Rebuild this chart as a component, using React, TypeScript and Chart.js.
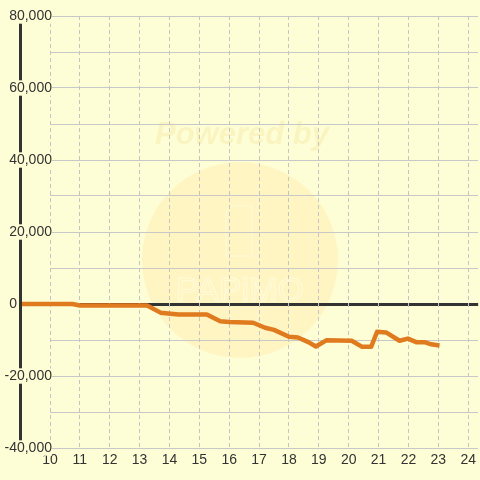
import { useEffect, useRef } from 'react';
import { Chart, registerables } from 'chart.js';

Chart.register(...registerables);

// Hours of day (x) and running balance (y)
const hours = [9, 10.75, 11, 13.25, 13.7, 14.3, 15.25, 15.7, 16.0, 16.8, 17.2, 17.5, 18.0, 18.3, 18.65, 18.9, 19.25, 20.1, 20.45, 20.75, 20.95, 21.25, 21.7, 21.98, 22.26, 22.54, 22.76, 23.04];
const balance = [0, 0, -400, -400, -2400, -2900, -2900, -4800, -5000, -5200, -6600, -7200, -9100, -9300, -10600, -11800, -10100, -10200, -11900, -11900, -7700, -7900, -10200, -9600, -10600, -10600, -11200, -11500];

const xMin = 10;
const xMax = 24.333;
const yMin = -40000;
const yMax = 80000;
const yGridStep = 10000;
const yLabelStep = 20000;

const BG = '#FEFED6';
const LINE = '#E07A1F';
const DARK = '#333333';
const GRID = '#C8C8C8';
const FONT = 'Arial, "Liberation Sans", sans-serif';

const watermark = {
  id: 'watermark',
  beforeDraw(chart: any) {
    const { ctx } = chart;
    ctx.save();
    ctx.fillStyle = '#FFF5C2';
    ctx.beginPath();
    ctx.arc(240, 260, 98, 0, Math.PI * 2);
    ctx.fill();
    ctx.fillStyle = '#FAF4C0';
    ctx.font = 'italic bold 31px ' + FONT;
    ctx.textAlign = 'center';
    ctx.textBaseline = 'middle';
    ctx.fillText('Powered by', 242, 135);
    ctx.strokeStyle = 'rgba(255,252,225,0.8)';
    ctx.lineWidth = 1;
    ctx.beginPath();
    ctx.moveTo(232, 206);
    ctx.lineTo(252, 206);
    ctx.lineTo(252, 256);
    ctx.lineTo(226, 256);
    ctx.lineTo(226, 212);
    ctx.closePath();
    ctx.stroke();
    ctx.font = '34px ' + FONT;
    ctx.lineWidth = 1;
    ctx.strokeText('PAPiMO', 240, 292);
    ctx.restore();
  },
};

export default function App() {
  const ref = useRef<HTMLCanvasElement>(null);

  useEffect(() => {
    const canvas = ref.current;
    if (!canvas) return;
    const chart = new Chart(canvas, {
      type: 'line',
      data: {
        datasets: [
          {
            data: hours.map((h, i) => ({ x: h, y: balance[i] })),
            xAxisID: 'x',
            yAxisID: 'y',
            borderColor: LINE,
            borderWidth: 4.5,
            pointRadius: 0,
            tension: 0,
            borderJoinStyle: 'round',
            borderCapStyle: 'butt',
            clip: false as any,
            fill: false,
          } as any,
        ],
      },
      options: {
        animation: false,
        responsive: false,
        events: [],
        layout: { padding: { top: 16, left: 0, right: 0, bottom: 0 } },
        plugins: {
          legend: { display: false },
          tooltip: { enabled: false },
        },
        scales: {
          yEdge: {
            type: 'linear',
            position: 'left',
            weight: 10,
            ticks: { display: false },
            grid: { display: true, drawOnChartArea: false, drawTicks: false },
            border: { display: true, color: DARK, width: 3, z: 1 },
            afterFit: (s: any) => {
              s.width = 20;
            },
          } as any,
          y: {
            type: 'linear',
            position: 'left',
            weight: 0,
            min: yMin,
            max: yMax,
            afterFit: (s: any) => {
              s.width = 30;
            },
            ticks: {
              stepSize: yGridStep,
              autoSkip: false,
              mirror: true,
              crossAlign: 'far',
              padding: -45.5,
              color: DARK,
              font: { family: FONT, size: 14, lineHeight: 1.1 },
              z: 2,
              showLabelBackdrop: true,
              backdropPadding: 0,
              backdropColor: (ctx: any) => (ctx.tick && ctx.tick.value === 0 ? 'rgba(0,0,0,0)' : BG),
              callback: (v: any) => {
                const n = Number(v);
                if (n % yLabelStep !== 0) return '';
                if (n === 0) return '0         ';
                return n.toLocaleString('en-US');
              },
            },
            grid: {
              drawTicks: false,
              color: (ctx: any) => (ctx.tick && ctx.tick.value === 0 ? DARK : GRID),
              lineWidth: (ctx: any) => (ctx.tick && ctx.tick.value === 0 ? 3 : 1),
            },
            border: { display: false },
          } as any,
          x: {
            type: 'linear',
            position: 'bottom',
            min: xMin,
            max: xMax,
            afterFit: (s: any) => {
              s.height = 32;
            },
            ticks: {
              stepSize: 1,
              includeBounds: false,
              autoSkip: false,
              maxRotation: 0,
              padding: 4,
              color: DARK,
              font: { family: FONT, size: 14 },
            },
            grid: { drawTicks: false, color: '#C4C4C4', lineWidth: 1 },
            border: { display: false, dash: [4, 3] },
          } as any,
        },
      },
      plugins: [watermark],
    });
    return () => chart.destroy();
  }, []);

  return (
    <div style={{ position: 'fixed', left: 0, top: 0, width: 480, height: 480, background: BG }}>
      <canvas ref={ref} width={480} height={480} style={{ display: 'block', width: 480, height: 480 }} />
    </div>
  );
}
